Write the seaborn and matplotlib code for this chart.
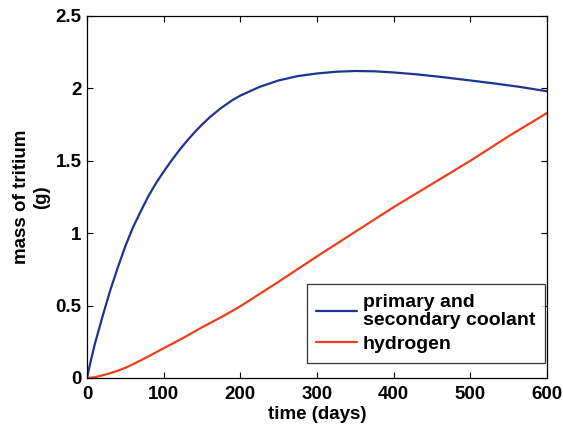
import numpy as np
import pandas as pd
import matplotlib
matplotlib.use("Agg")
import matplotlib.pyplot as plt
import seaborn as sns

# Data
coolant_days = [0, 5, 10, 20, 30, 40, 50, 60, 70, 80, 90, 100, 110, 120, 130, 140, 150, 160,
                175, 190, 200, 225, 250, 275, 300, 325, 350, 375, 400, 430, 460, 495, 530,
                565, 600]
coolant_mass = [0, 0.12, 0.23, 0.42, 0.60, 0.76, 0.91, 1.04, 1.15, 1.255, 1.345, 1.425, 1.50,
                1.57, 1.635, 1.695, 1.75, 1.80, 1.865, 1.92, 1.95, 2.01, 2.055, 2.085, 2.103,
                2.115, 2.12, 2.118, 2.11, 2.097, 2.08, 2.058, 2.035, 2.01, 1.98]
hydrogen_days = [0, 10, 20, 30, 40, 50, 60, 75, 100, 125, 150, 175, 200, 250, 300, 350, 400,
                 450, 500, 550, 600]
hydrogen_mass = [0, 0.005, 0.018, 0.033, 0.05, 0.07, 0.095, 0.135, 0.205, 0.275, 0.35, 0.42,
                 0.495, 0.665, 0.84, 1.01, 1.18, 1.34, 1.50, 1.67, 1.83]
series_names = ["primary and\nsecondary coolant", "hydrogen"]
x_ticks = [0, 100, 200, 300, 400, 500, 600]
y_ticks = [0, 0.5, 1, 1.5, 2, 2.5]
y_tick_labels = ["0", "0.5", "1", "1.5", "2", "2.5"]

df = pd.concat([
    pd.DataFrame({"time": coolant_days, "mass": coolant_mass, "series": series_names[0]}),
    pd.DataFrame({"time": hydrogen_days, "mass": hydrogen_mass, "series": series_names[1]}),
])

sns.set_style("ticks")
plt.rcParams["font.family"] = ["Liberation Sans", "DejaVu Sans"]
plt.rcParams["font.weight"] = "bold"
plt.rcParams["text.color"] = "black"
plt.rcParams["axes.labelcolor"] = "black"

FS = 13.5

fig = plt.figure(figsize=(5.63, 4.25), dpi=100)
ax = fig.add_axes([0.1545, 0.1106, 0.8171, 0.8518])

palette = {series_names[0]: "#1c3594", series_names[1]: "#e8401c"}
sns.lineplot(data=df, x="time", y="mass", hue="series", palette=palette,
             linewidth=1.6, ax=ax, sort=True, estimator=None)

ax.set_xlim(0, 600)
ax.set_ylim(0, 2.5)
ax.set_xticks(x_ticks)
ax.set_xticklabels([str(t) for t in x_ticks])
ax.set_yticks(y_ticks)
ax.set_yticklabels(y_tick_labels)
ax.tick_params(direction="in", top=True, right=True, length=4.5, width=0.8,
               labelsize=FS, colors="black", labelcolor="black")
ax.tick_params(axis="x", pad=6)
ax.tick_params(axis="y", pad=4)
for lab in ax.get_xticklabels() + ax.get_yticklabels():
    lab.set_fontweight("bold")
for s in ax.spines.values():
    s.set_linewidth(0.9)
    s.set_color("black")

ax.set_xlabel("time (days)", fontsize=FS, fontweight="bold", labelpad=2, color="black")
ax.set_ylabel("mass of tritium\n(g)", fontsize=FS, fontweight="bold", labelpad=4, color="black")

leg = ax.legend(loc="lower right", bbox_to_anchor=(545 / 563, 1 - 363 / 425),
                bbox_transform=fig.transFigure, borderaxespad=0,
                fontsize=14, frameon=True, fancybox=False,
                edgecolor="black", handlelength=2.1, labelspacing=0.35,
                handletextpad=0.3, borderpad=0.5)
leg.get_frame().set_linewidth(0.9)
for t in leg.get_texts():
    t.set_fontweight("bold")
    t.set_color("black")
    t.set_linespacing(1.05)

fig.savefig("out.png", dpi=100)
